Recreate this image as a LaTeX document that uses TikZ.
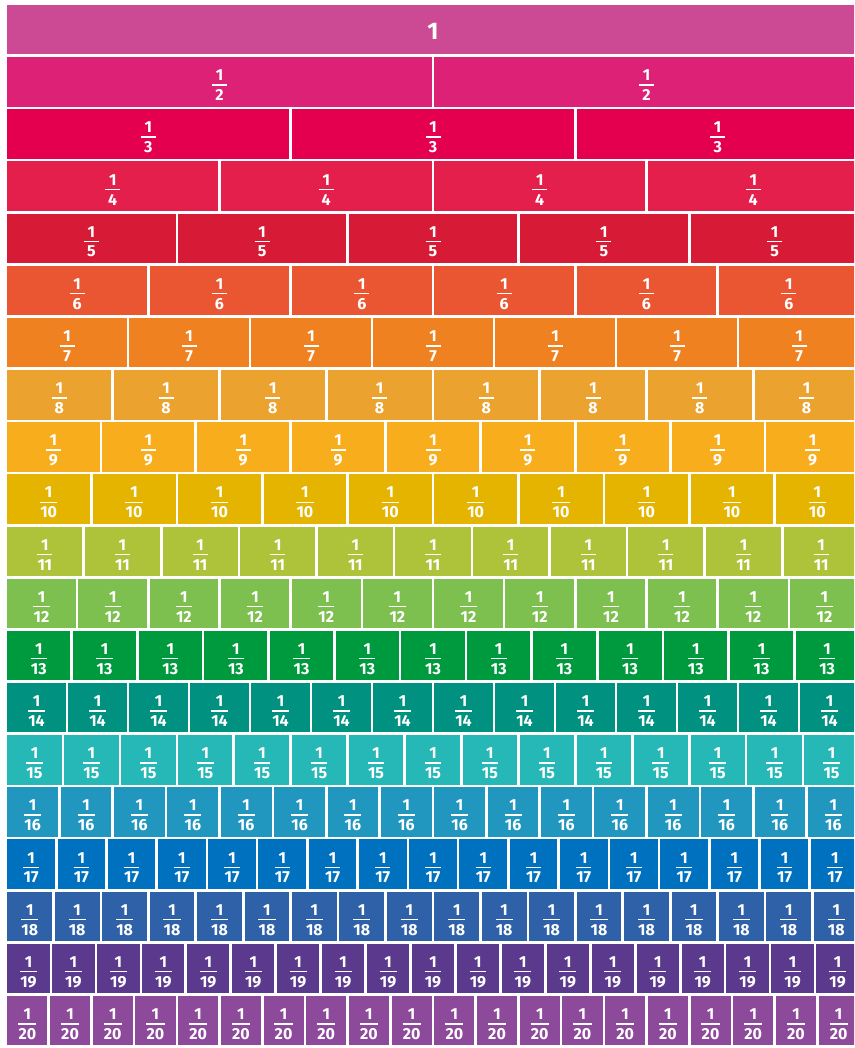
\documentclass[tikz,border=0pt]{standalone}
\usepackage{fontspec}
\setmainfont{Fira Sans}
\definecolor{r1}{HTML}{CC4993}
\definecolor{r2}{HTML}{DD2177}
\definecolor{r3}{HTML}{E4004F}
\definecolor{r4}{HTML}{E41F4B}
\definecolor{r5}{HTML}{D71B36}
\definecolor{r6}{HTML}{EA5532}
\definecolor{r7}{HTML}{EF8121}
\definecolor{r8}{HTML}{EBA22F}
\definecolor{r9}{HTML}{F7AD1C}
\definecolor{r10}{HTML}{E4B400}
\definecolor{r11}{HTML}{AEC23A}
\definecolor{r12}{HTML}{7EC04F}
\definecolor{r13}{HTML}{009A3E}
\definecolor{r14}{HTML}{009180}
\definecolor{r15}{HTML}{26B7B7}
\definecolor{r16}{HTML}{2196BF}
\definecolor{r17}{HTML}{0071BE}
\definecolor{r18}{HTML}{2F61A9}
\definecolor{r19}{HTML}{5B3A8E}
\definecolor{r20}{HTML}{8D4A9A}
\newcommand\myfr[1]{%
  \ifnum#1=1
    \vbox{\kern3pt\hbox{\fontsize{24}{24}\selectfont 1}}%
  \else
    \setbox0\hbox{#1}\dimen0=\wd0 \advance\dimen0 by 0.5pt
    \ifdim\dimen0<15pt \dimen0=15pt\fi
    \vbox{\offinterlineskip\kern7pt\halign{\hfil##\hfil\cr
      1\cr\noalign{\kern3.6pt}
      \vrule width\dimen0 height1.5pt\cr\noalign{\kern3.8pt}
      #1\cr}}%
  \fi}
\tikzset{cell/.style={inner sep=0pt, outer sep=0pt, text=white,
  font=\fontsize{16}{17}\selectfont\bfseries}}
\begin{document}
\begin{tikzpicture}[x=1pt,y=-1pt]
\useasboundingbox (0,0) rectangle (854,1048);
\fill[white] (0,0) rectangle (854,1048);
\begin{scope}
\clip (0,0) rectangle (854,1048);
\foreach \n in {1,...,20}{
  \pgfmathsetmacro\ytop{5+(\n-1)*52.15}
  \pgfmathsetmacro\w{854/\n}
  \foreach \k in {1,...,\n}{
    \pgfmathsetmacro\xc{6+(\k-0.5)*\w}
    \node[cell, fill=r\n, minimum width={\w-2.6}, minimum height=49.5]
      (c-\n-\k) at (\xc,{\ytop+24.75}) {\myfr{\n}};
  }
}
\end{scope}
\end{tikzpicture}
\end{document}
